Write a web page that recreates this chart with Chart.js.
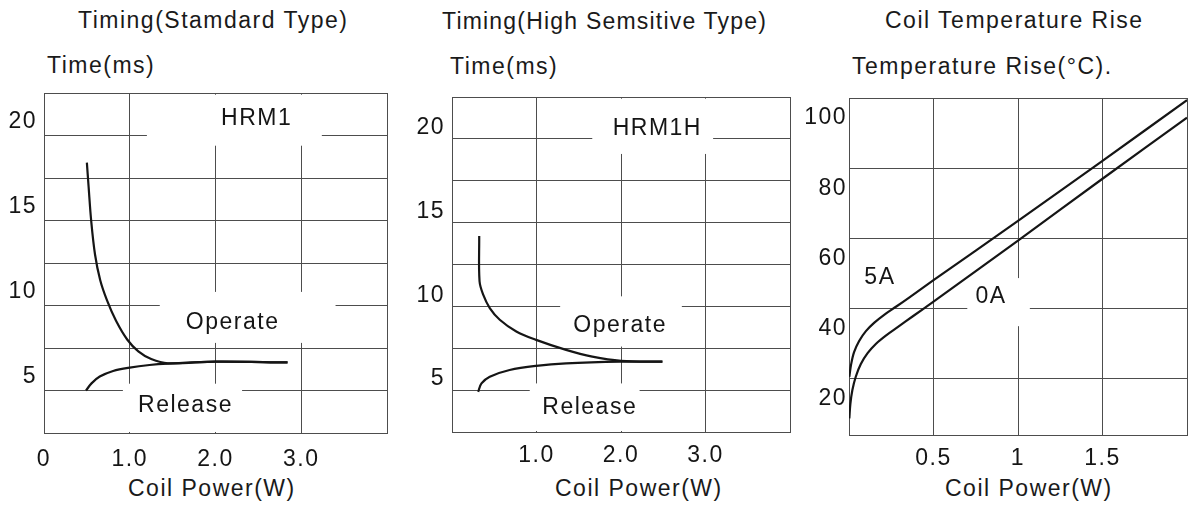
<!DOCTYPE html>
<html>
<head>
<meta charset="utf-8">
<script src="https://cdn.jsdelivr.net/npm/chart.js@4.4.1/dist/chart.umd.min.js"></script>
<style>
body { margin: 0; background: #fff; width: 1188px; height: 514px; overflow: hidden; position: relative; font-family: "Liberation Sans", Arial, sans-serif; color: #1a1a1a; }
.t { position: absolute; font-size: 23px; line-height: 23px; letter-spacing: 1.5px; white-space: nowrap; }
canvas { position: absolute; }
</style>
</head>
<body>
<div class="t" style="left:78px;top:9px">Timing(Stamdard Type)</div>
<div class="t" style="left:47px;top:54px">Time(ms)</div>
<div class="t" style="left:442px;top:10px;letter-spacing:1.2px">Timing(High Semsitive Type)</div>
<div class="t" style="left:450px;top:55px">Time(ms)</div>
<div class="t" style="left:885px;top:9px">Coil Temperature Rise</div>
<div class="t" style="left:852px;top:55px">Temperature Rise(°C).</div>
<div class="t" style="left:128px;top:477px">Coil Power(W)</div>
<div class="t" style="left:555px;top:477px">Coil Power(W)</div>
<div class="t" style="left:945px;top:477px">Coil Power(W)</div>

<canvas id="std" width="395" height="434" style="left:0;top:80px"></canvas>
<canvas id="hs" width="395" height="434" style="left:400px;top:80px"></canvas>
<canvas id="temp" width="388" height="434" style="left:800px;top:80px"></canvas>

<script>
const FONT = '"Liberation Sans", Arial, sans-serif';
const INK = '#151515', GRID = '#4d4d4d';

// HRM1 standard type: operate / release time vs coil power
const stdOpPower  = [0.50, 0.52, 0.55, 0.595, 0.655, 0.735, 0.84, 0.97, 1.1, 1.25, 1.445, 2.0, 2.84];
const stdOpTime   = [18.4, 17.0, 15.0, 13.0, 11.5, 10.3, 9.1, 8.0, 7.3, 6.85, 6.6, 6.7, 6.65];
const stdRelPower = [0.49, 0.554, 0.65, 0.806, 1.0, 1.23, 1.445, 2.0, 2.84];
const stdRelTime  = [5.0, 5.42, 5.82, 6.15, 6.35, 6.5, 6.58, 6.7, 6.65];

// HRM1H high sensitive type
const hsOpPower  = [0.322, 0.326, 0.369, 0.447, 0.565, 0.761, 0.996, 1.35, 1.66, 2.0, 2.49];
const hsOpTime   = [14.2, 11.5, 10.7, 9.9, 9.2, 8.5, 8.0, 7.4, 7.0, 6.75, 6.7];
const hsRelPower = [0.31, 0.349, 0.447, 0.682, 0.996, 1.35, 2.0, 2.49];
const hsRelTime  = [4.9, 5.4, 5.8, 6.2, 6.45, 6.6, 6.7, 6.7];

// coil temperature rise, 5A and 0A contact load
const t5Power = [0.002, 0.012, 0.03, 0.06, 0.1, 0.15, 0.21, 0.28, 0.36, 0.5, 1.0, 1.5, 2.0];
const t5Rise  = [20.6, 24.0, 27.6, 30.8, 33.6, 36.0, 38.3, 40.6, 43.3, 48.1, 65.0, 82.1, 99.4];
const t0Power = [0.002, 0.008, 0.02, 0.04, 0.07, 0.11, 0.16, 0.22, 0.29, 0.38, 0.5, 1.0, 1.5, 2.0];
const t0Rise  = [8.75, 12.8, 16.8, 20.6, 24.2, 27.3, 30.0, 32.4, 34.8, 37.9, 42.0, 59.4, 77.0, 94.4];

// axis grids and tick labels
const timeGrid = [2.5, 5, 7.5, 10, 12.5, 15, 17.5, 20, 22.5];
const timeLabels = ['', '5', '', '10', '', '15', '', '20', ''];
const powerGrid = [0, 1, 2, 3, 4];
const stdPowerLabels = ['0', '1.0', '2.0', '3.0', ''];
const hsPowerLabels = ['', '1.0', '2.0', '3.0', ''];
const tempPowerGrid = [0, 0.5, 1, 1.5, 2];
const tempPowerLabels = ['', '0.5', '1', '1.5', ''];
const tempGrid = [20, 40, 60, 80, 100];
const tempLabels = ['20', '40', '60', '80', '100'];

const spacing = { id: 'spacing', beforeDraw: c => { c.ctx.letterSpacing = '1.5px'; } };

function notesPlugin(notes) {
  return {
    id: 'notes',
    beforeDatasetsDraw(c) {
      const { ctx, scales: { x, y } } = c;
      ctx.save(); ctx.fillStyle = '#fff';
      for (const n of notes) {
        if (!n.box) continue;
        const [x0, x1, y0, y1] = n.box;
        const l = x.getPixelForValue(x0), r = x.getPixelForValue(x1), t = y.getPixelForValue(y1), b = y.getPixelForValue(y0);
        ctx.fillRect(l, t, r - l, b - t);
      }
      ctx.restore();
    },
    afterDatasetsDraw(c) {
      const { ctx, scales: { x, y } } = c;
      ctx.save(); ctx.fillStyle = INK; ctx.font = '23px ' + FONT; ctx.textAlign = 'center'; ctx.textBaseline = 'middle';
      for (const n of notes) ctx.fillText(n.text, x.getPixelForValue(n.x), y.getPixelForValue(n.y));
      ctx.restore();
    },
  };
}

function axis(grid, labels, min, size, pad, offset, horizontal) {
  return {
    type: 'linear', min, max: grid[grid.length - 1],
    afterBuildTicks: s => { s.ticks = grid.map(v => ({ value: v })); },
    afterFit: s => {
      if (horizontal) { s.height = size; s.paddingLeft = s.paddingRight = 0; }
      else { s.width = size; s.paddingTop = s.paddingBottom = 0; }
    },
    grid: { color: GRID, lineWidth: 1, drawTicks: false },
    border: { color: GRID, width: 1 },
    ticks: { color: INK, font: { family: FONT, size: 23, lineHeight: 1.2 }, padding: pad, labelOffset: offset, autoSkip: false, maxRotation: 0, callback: (v, i) => labels[i] },
  };
}

function panel(id, pad, xScale, yScale, series, notes) {
  new Chart(document.getElementById(id), {
    type: 'line',
    data: { datasets: series.map(([px, py]) => ({
      data: px.map((x, i) => ({ x, y: py[i] })),
      borderColor: INK, borderWidth: 2.2, pointRadius: 0, tension: 0.35, fill: false,
    })) },
    options: {
      responsive: false, animation: false, events: [],
      layout: { padding: { top: pad.top, right: pad.right, left: 0, bottom: 0 } },
      plugins: { legend: { display: false }, tooltip: { enabled: false } },
      scales: { x: xScale, y: yScale },
    },
    plugins: [spacing, notesPlugin(notes)],
  });
}

panel('std', { top: 13, right: 8 },
  axis(powerGrid, stdPowerLabels, 0, 81, 13, 0, true),
  axis(timeGrid, timeLabels, 2.5, 44, 7, -14, false),
  [[stdOpPower, stdOpTime], [stdRelPower, stdRelTime]],
  [
    { text: 'HRM1', x: 2.48, y: 21.0, box: [1.2, 3.24, 19.4, 22.4] },
    { text: 'Operate', x: 2.2, y: 9.0, box: [1.35, 3.4, 7.8, 10.8] },
    { text: 'Release', x: 1.65, y: 4.1, box: [0.92, 2.31, 2.56, 5.4] },
  ]);

panel('hs', { top: 17, right: 5 },
  axis(powerGrid, hsPowerLabels, 0, 82, 10, 0, true),
  axis(timeGrid, timeLabels, 2.5, 52, 7, -11, false),
  [[hsOpPower, hsOpTime], [hsRelPower, hsRelTime]],
  [
    { text: 'HRM1H', x: 2.43, y: 20.6, box: [1.66, 3.09, 19.1, 22.4] },
    { text: 'Operate', x: 1.99, y: 8.87, box: [1.28, 2.72, 7.6, 10.6] },
    { text: 'Release', x: 1.63, y: 3.93, box: [0.92, 2.22, 2.56, 5.4] },
  ]);

panel('temp', { top: 18, right: 1 },
  axis(tempPowerGrid, tempPowerLabels, 0, 79, 10, 0, true),
  axis(tempGrid, tempLabels, 4, 49, 2, 20, false),
  [[t5Power, t5Rise], [t0Power, t0Rise]],
  [
    { text: '5A', x: 0.183, y: 48.7 },
    { text: '0A', x: 0.84, y: 43.3, box: [0.70, 1.07, 35.0, 48.7] },
  ]);
</script>
</body>
</html>
